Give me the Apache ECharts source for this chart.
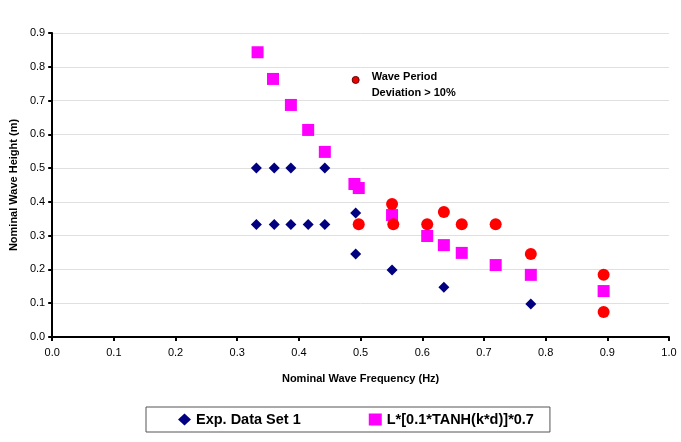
<!DOCTYPE html>
<html>
<head>
<meta charset="utf-8">
<script src="https://cdn.jsdelivr.net/npm/echarts@6/dist/echarts.min.js"></script>
<style>
  html, body { margin: 0; padding: 0; background: #fff; }
  #chart { width: 681px; height: 442px; }
</style>
</head>
<body>
<div id="chart"></div>
<script>
// experimental data set 1 (freq Hz, height m)
const expFreq = [0.331, 0.360, 0.387, 0.442, 0.331, 0.360, 0.387, 0.415, 0.442, 0.492, 0.492, 0.551, 0.635, 0.776];
const expHeight = [0.500, 0.500, 0.500, 0.500, 0.333, 0.333, 0.333, 0.333, 0.333, 0.367, 0.246, 0.198, 0.147, 0.098];

// L*[0.1*TANH(k*d)]*0.7
const limFreq = [0.333, 0.358, 0.387, 0.415, 0.442, 0.490, 0.497, 0.551, 0.608, 0.635, 0.664, 0.719, 0.776, 0.894];
const limHeight = [0.843, 0.764, 0.687, 0.613, 0.548, 0.453, 0.441, 0.361, 0.299, 0.272, 0.249, 0.213, 0.184, 0.136];

// points with wave period deviation > 10%
const devFreq = [0.497, 0.551, 0.553, 0.608, 0.635, 0.664, 0.719, 0.776, 0.894, 0.894];
const devHeight = [0.334, 0.394, 0.334, 0.334, 0.370, 0.334, 0.334, 0.246, 0.184, 0.074];

// annotation marker
const noteFreq = [0.492];
const noteHeight = [0.761];
const noteText = 'Wave Period\nDeviation > 10%';

const xTicks = [0, 0.1, 0.2, 0.3, 0.4, 0.5, 0.6, 0.7, 0.8, 0.9, 1.0];
const yTicks = [0, 0.1, 0.2, 0.3, 0.4, 0.5, 0.6, 0.7, 0.8, 0.9];

function pairs(xs, ys) {
  return xs.map((x, i) => [x, ys[i]]);
}

const font = 'Liberation Sans, Arial, sans-serif';
const chart = echarts.init(document.getElementById('chart'));

chart.setOption({
  animation: false,
  textStyle: { fontFamily: font },
  grid: { left: 47, top: 33, right: 12, bottom: 105 },
  xAxis: {
    type: 'value',
    min: xTicks[0],
    max: xTicks[xTicks.length - 1],
    interval: 0.1,
    name: 'Nominal Wave Frequency (Hz)',
    nameLocation: 'middle',
    nameGap: 36,
    nameTextStyle: { fontSize: 11, fontWeight: 'bold', color: '#000', fontFamily: font },
    axisLine: { lineStyle: { color: '#000', width: 2 } },
    axisTick: { show: true, length: 4, lineStyle: { color: '#000', width: 2 } },
    axisLabel: { fontSize: 11, color: '#000', margin: 10, formatter: v => v.toFixed(1) },
    splitLine: { show: false }
  },
  yAxis: {
    type: 'value',
    min: yTicks[0],
    max: yTicks[yTicks.length - 1],
    interval: 0.1,
    name: 'Nominal Wave Height (m)',
    nameLocation: 'middle',
    nameGap: 33,
    nameTextStyle: { fontSize: 11, fontWeight: 'bold', color: '#000', fontFamily: font },
    axisLine: { show: true, lineStyle: { color: '#000', width: 2 } },
    axisTick: { show: true, length: 4, lineStyle: { color: '#000', width: 2 } },
    axisLabel: { fontSize: 11, color: '#000', margin: 7, formatter: v => v.toFixed(1) },
    splitLine: { show: true, lineStyle: { color: '#e0e0e0', width: 1 } }
  },
  legend: {
    data: ['Exp. Data Set 1', 'L*[0.1*TANH(k*d)]*0.7'],
    left: 146,
    top: 407,
    orient: 'horizontal',
    borderColor: '#555',
    borderWidth: 1,
    padding: [5, 16, 5, 32],
    itemGap: 68,
    itemWidth: 13,
    itemHeight: 12,
    textStyle: { fontSize: 14.5, fontWeight: 'bold', color: '#000', fontFamily: font }
  },
  series: [
    {
      name: 'Exp. Data Set 1',
      type: 'scatter',
      symbol: 'diamond',
      symbolSize: 11,
      itemStyle: { color: '#000080', opacity: 1 },
      data: pairs(expFreq, expHeight),
      z: 3
    },
    {
      name: 'L*[0.1*TANH(k*d)]*0.7',
      type: 'scatter',
      symbol: 'rect',
      symbolSize: 12,
      itemStyle: { color: '#ff00ff', opacity: 1 },
      data: pairs(limFreq, limHeight),
      z: 2
    },
    {
      name: 'Wave Period Deviation',
      type: 'scatter',
      symbol: 'circle',
      symbolSize: 12,
      itemStyle: { color: '#ff0000', opacity: 1 },
      data: pairs(devFreq, devHeight),
      z: 4
    },
    {
      name: 'note',
      type: 'scatter',
      symbol: 'circle',
      symbolSize: 7,
      itemStyle: { color: '#ee0000', borderColor: '#600000', borderWidth: 1, opacity: 1 },
      data: pairs(noteFreq, noteHeight),
      label: {
        show: true,
        position: 'right',
        distance: 12,
        offset: [0, 5],
        formatter: noteText,
        fontSize: 11,
        fontWeight: 'bold',
        lineHeight: 16,
        color: '#000',
        fontFamily: font
      },
      z: 5
    }
  ]
});
</script>
</body>
</html>
